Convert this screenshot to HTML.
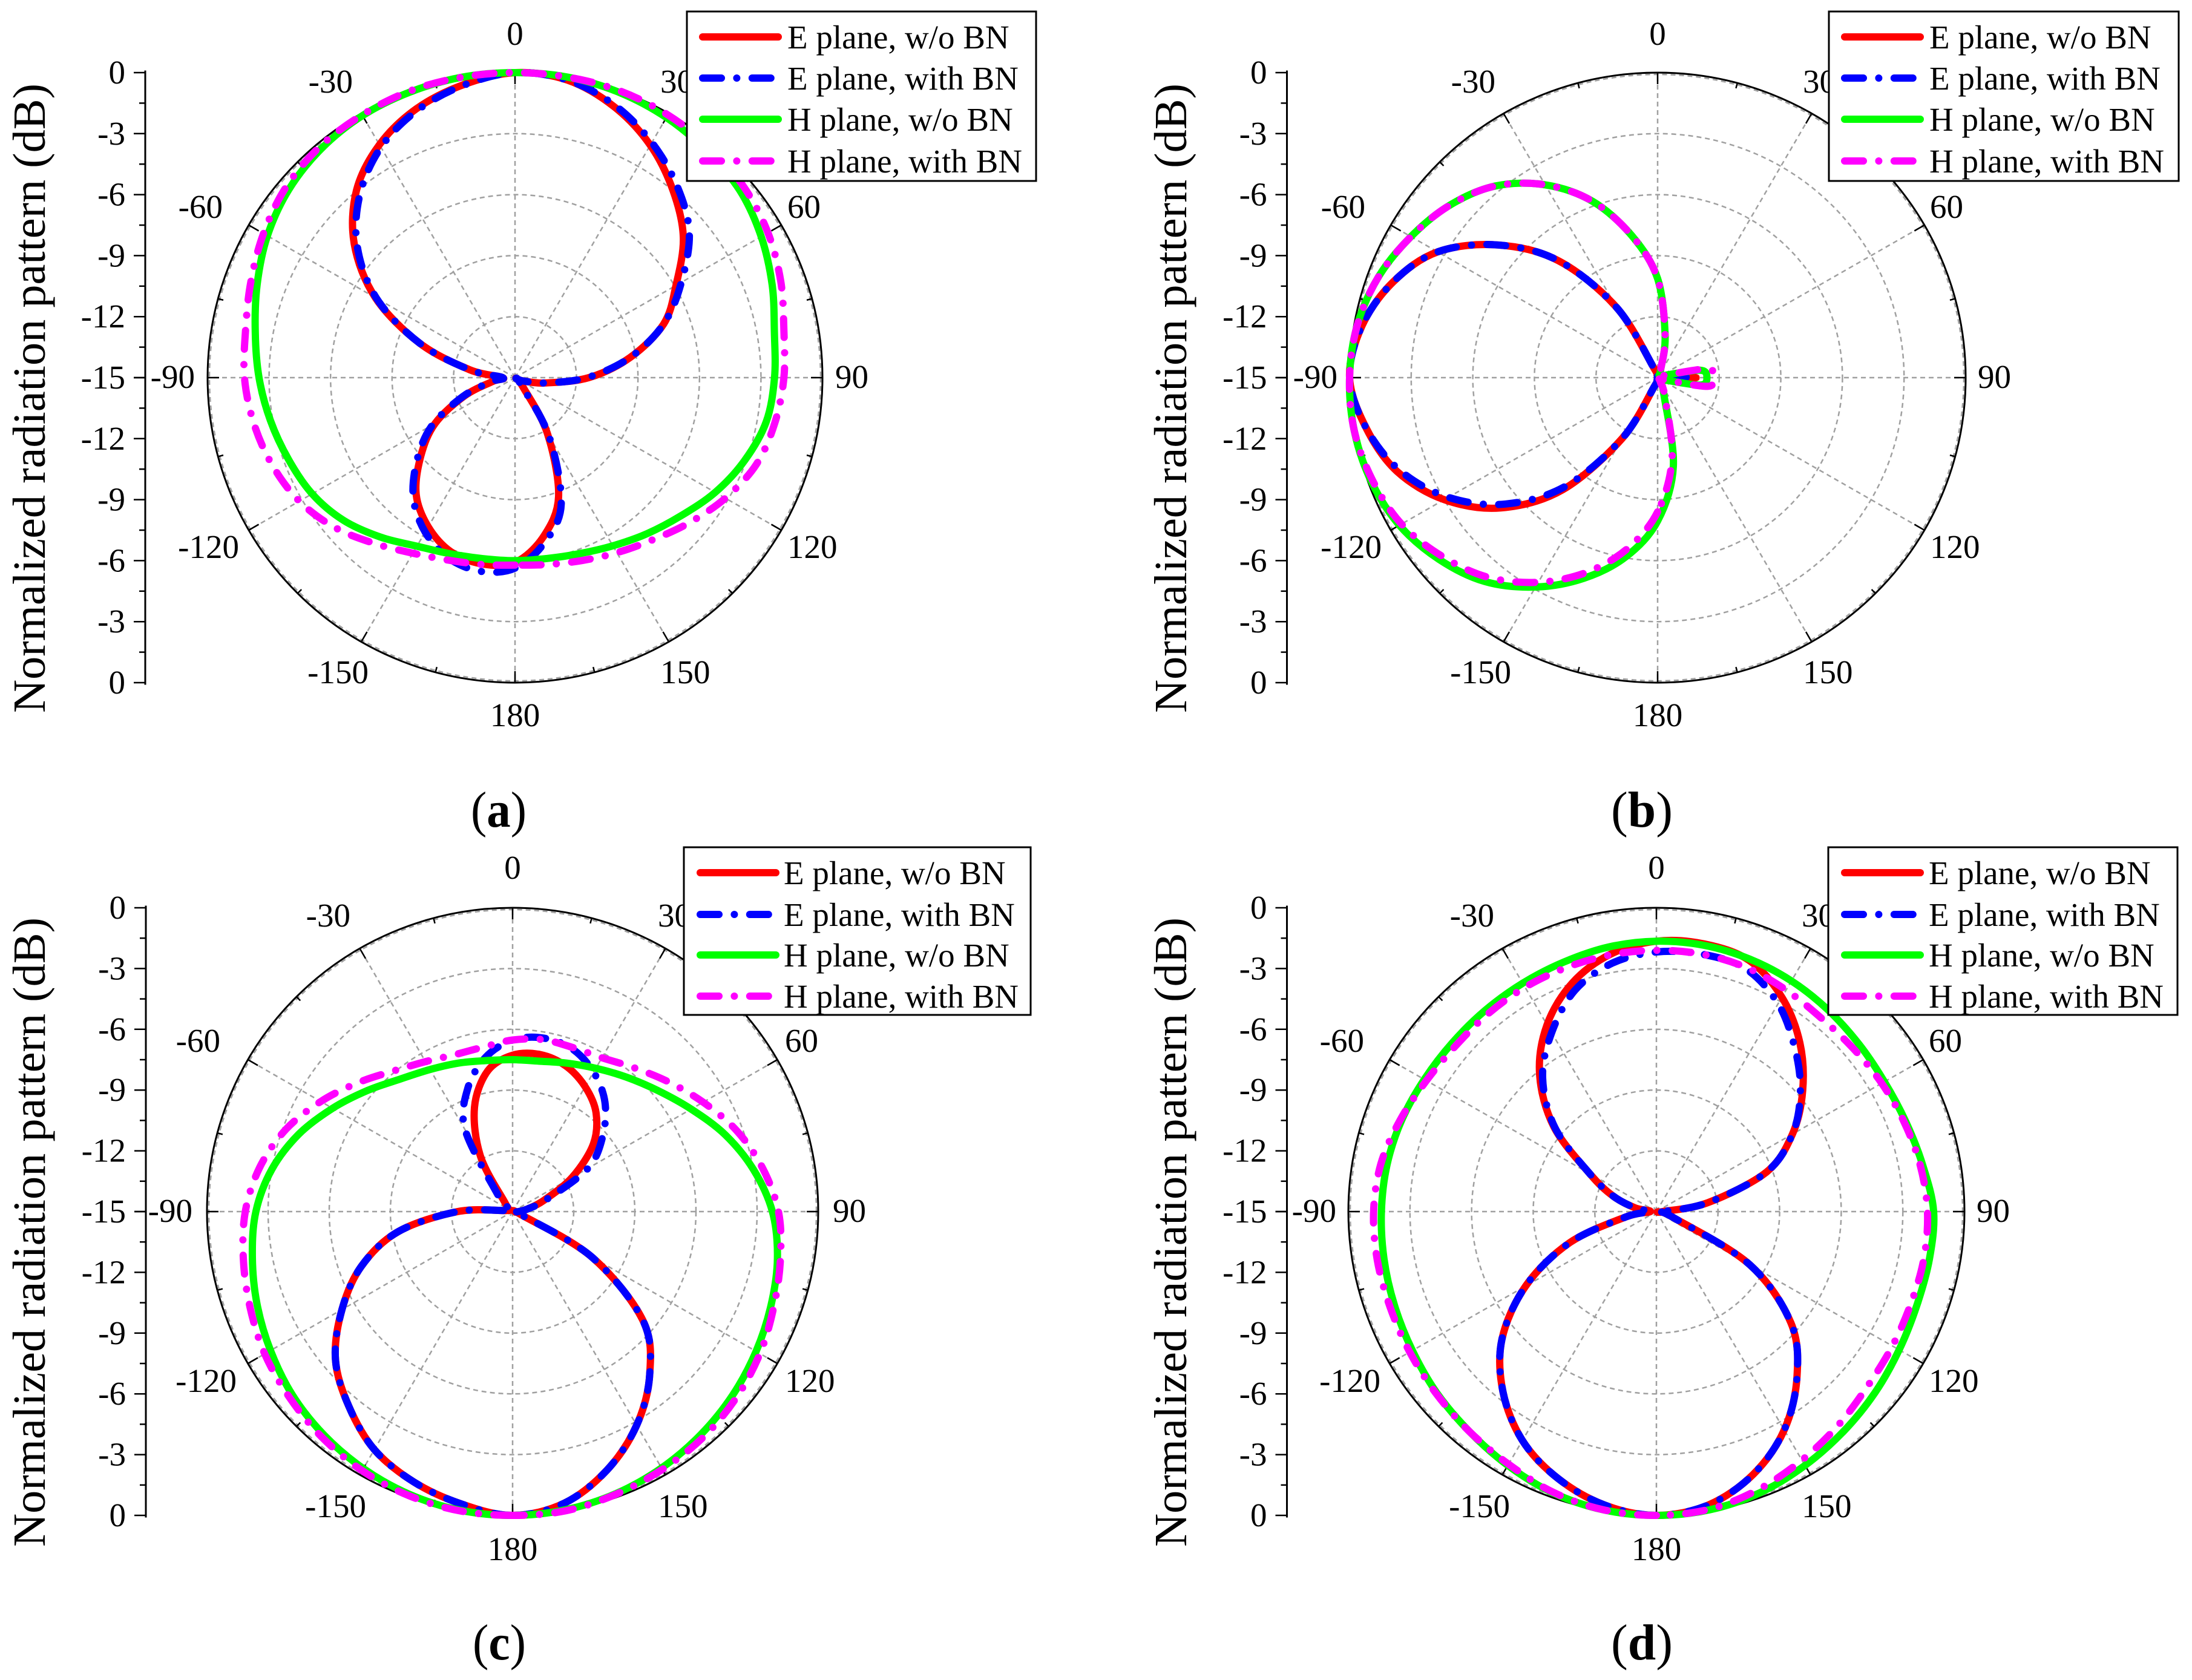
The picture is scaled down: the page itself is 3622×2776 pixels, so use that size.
<!DOCTYPE html>
<html lang="en">
<head>
<meta charset="utf-8">
<title>Normalized radiation patterns</title>
<style>
html,body{margin:0;padding:0;background:#fff}
svg{display:block}
text{font-family:"Liberation Serif",serif;fill:#000}
.lg{font-size:55px}
.tick{font-size:55px}
.ttl{font-size:76px}
.cap{font-size:84px}
</style>
</head>
<body>
<svg id="figure" xmlns="http://www.w3.org/2000/svg" width="3622" height="2776" viewBox="0 0 3622 2776">
<rect width="3622" height="2776" fill="#fff"/>

<g id="panel-a">
  <g id="plot-a"></g>
  <text class="ttl" transform="translate(74,658) rotate(-90)" text-anchor="middle" textLength="1040" lengthAdjust="spacingAndGlyphs">Normalized radiation pattern (dB)</text>
  <g transform="translate(1135,19)">
    <rect x="0" y="0" width="577" height="280" fill="#fff" stroke="#000" stroke-width="3"/>
    <line x1="26" x2="151" y1="42" y2="42" stroke="#f00" stroke-width="12" stroke-linecap="round"/>
    <text class="lg" x="166" y="61">E plane, w/o BN</text>
    <line x1="26" x2="151" y1="110" y2="110" stroke="#00f" stroke-width="12" stroke-linecap="round" stroke-dasharray="31 25.4 0 25.4"/>
    <text class="lg" x="166" y="129">E plane, with BN</text>
    <line x1="26" x2="151" y1="178" y2="178" stroke="#0f0" stroke-width="12" stroke-linecap="round"/>
    <text class="lg" x="166" y="197">H plane, w/o BN</text>
    <line x1="26" x2="151" y1="247" y2="247" stroke="#f0f" stroke-width="12" stroke-linecap="round" stroke-dasharray="31 25.4 0 25.4"/>
    <text class="lg" x="166" y="266">H plane, with BN</text>
  </g>
  <text class="cap" x="778" y="1366" textLength="92" lengthAdjust="spacingAndGlyphs">(<tspan font-weight="bold">a</tspan>)</text>
</g>

<g id="panel-b">
  <g id="plot-b"></g>
  <text class="ttl" transform="translate(1960,658) rotate(-90)" text-anchor="middle" textLength="1040" lengthAdjust="spacingAndGlyphs">Normalized radiation pattern (dB)</text>
  <g transform="translate(3022,19)">
    <rect x="0" y="0" width="578" height="280" fill="#fff" stroke="#000" stroke-width="3"/>
    <line x1="26" x2="151" y1="42" y2="42" stroke="#f00" stroke-width="12" stroke-linecap="round"/>
    <text class="lg" x="166" y="61">E plane, w/o BN</text>
    <line x1="26" x2="151" y1="110" y2="110" stroke="#00f" stroke-width="12" stroke-linecap="round" stroke-dasharray="31 25.4 0 25.4"/>
    <text class="lg" x="166" y="129">E plane, with BN</text>
    <line x1="26" x2="151" y1="178" y2="178" stroke="#0f0" stroke-width="12" stroke-linecap="round"/>
    <text class="lg" x="166" y="197">H plane, w/o BN</text>
    <line x1="26" x2="151" y1="247" y2="247" stroke="#f0f" stroke-width="12" stroke-linecap="round" stroke-dasharray="31 25.4 0 25.4"/>
    <text class="lg" x="166" y="266">H plane, with BN</text>
  </g>
  <text class="cap" x="2662" y="1366" textLength="102" lengthAdjust="spacingAndGlyphs">(<tspan font-weight="bold">b</tspan>)</text>
</g>

<g id="panel-c">
  <g id="plot-c"></g>
  <text class="ttl" transform="translate(74,2036) rotate(-90)" text-anchor="middle" textLength="1040" lengthAdjust="spacingAndGlyphs">Normalized radiation pattern (dB)</text>
  <g transform="translate(1130,1400)">
    <rect x="0" y="0" width="573" height="277" fill="#fff" stroke="#000" stroke-width="3"/>
    <line x1="27" x2="152" y1="42" y2="42" stroke="#f00" stroke-width="12" stroke-linecap="round"/>
    <text class="lg" x="165" y="61">E plane, w/o BN</text>
    <line x1="27" x2="152" y1="111" y2="111" stroke="#00f" stroke-width="12" stroke-linecap="round" stroke-dasharray="31 25.4 0 25.4"/>
    <text class="lg" x="165" y="130">E plane, with BN</text>
    <line x1="27" x2="152" y1="178" y2="178" stroke="#0f0" stroke-width="12" stroke-linecap="round"/>
    <text class="lg" x="165" y="197">H plane, w/o BN</text>
    <line x1="27" x2="152" y1="246" y2="246" stroke="#f0f" stroke-width="12" stroke-linecap="round" stroke-dasharray="31 25.4 0 25.4"/>
    <text class="lg" x="165" y="265">H plane, with BN</text>
  </g>
  <text class="cap" x="781" y="2742" textLength="88" lengthAdjust="spacingAndGlyphs">(<tspan font-weight="bold">c</tspan>)</text>
</g>

<g id="panel-d">
  <g id="plot-d"></g>
  <text class="ttl" transform="translate(1960,2036) rotate(-90)" text-anchor="middle" textLength="1040" lengthAdjust="spacingAndGlyphs">Normalized radiation pattern (dB)</text>
  <g transform="translate(3021,1400)">
    <rect x="0" y="0" width="577" height="277" fill="#fff" stroke="#000" stroke-width="3"/>
    <line x1="27" x2="152" y1="42" y2="42" stroke="#f00" stroke-width="12" stroke-linecap="round"/>
    <text class="lg" x="166" y="61">E plane, w/o BN</text>
    <line x1="27" x2="152" y1="111" y2="111" stroke="#00f" stroke-width="12" stroke-linecap="round" stroke-dasharray="31 25.4 0 25.4"/>
    <text class="lg" x="166" y="130">E plane, with BN</text>
    <line x1="27" x2="152" y1="178" y2="178" stroke="#0f0" stroke-width="12" stroke-linecap="round"/>
    <text class="lg" x="166" y="197">H plane, w/o BN</text>
    <line x1="27" x2="152" y1="246" y2="246" stroke="#f0f" stroke-width="12" stroke-linecap="round" stroke-dasharray="31 25.4 0 25.4"/>
    <text class="lg" x="166" y="265">H plane, with BN</text>
  </g>
  <text class="cap" x="2662" y="2742" textLength="102" lengthAdjust="spacingAndGlyphs">(<tspan font-weight="bold">d</tspan>)</text>
</g>
</svg>

<script>
// Shared angular sampling (degrees, clockwise from top)
const angles = [-180,-170,-160,-150,-140,-130,-120,-110,-100,-90,-80,-70,-60,-50,-40,-30,-20,-10,0,10,20,30,40,50,60,70,80,90,100,110,120,130,140,150,160,170];

// Tick labels
const radialTicks = [0,-3,-6,-9,-12,-15];
const radialMinorTicks = [-1.5,-4.5,-7.5,-10.5,-13.5];
const ringLevels = [-12,-9,-6,-3,0];
const spokeAngles = [0,30,60,90,120,150,180,-150,-120,-90,-60,-30];
const minorAngles = [15,45,75,105,135,165,-165,-135,-105,-75,-45,-15];
const angleLabels = ['0','30','60','90','120','150','180','-150','-120','-90','-60','-30'];

// Panel (a) values, dB
const aEPlaneNoBN = [-5.91,-5.7,-5.88,-6.53,-7.5,-9,-10.5,-12.38,-13.88,-14.4,-12.75,-10.05,-7.13,-4.76,-2.97,-1.77,-.93,-.38,0,-.15,-.83,-1.8,-3,-4.28,-5.93,-7.28,-9.3,-11.4,-13.5,-14.48,-14.82,-14.93,-14.4,-11.85,-8.78,-7.05];
const aEPlaneBN = [-5.63,-5.33,-5.55,-6.23,-7.28,-8.78,-10.35,-12.3,-13.8,-14.4,-12.75,-10.05,-7.2,-4.95,-3.23,-1.92,-1.02,-.41,0,-.15,-.75,-1.65,-2.7,-3.9,-5.63,-7.28,-9.3,-11.48,-13.5,-14.48,-14.82,-14.93,-14.55,-11.7,-8.4,-6.75];
const aHPlaneNoBN = [-6,-5.96,-5.78,-5.43,-4.77,-4.08,-3.57,-3.24,-2.88,-2.51,-2.13,-1.61,-1.05,-.6,-.3,-.12,-.05,0,0,0,-.08,-.23,-.45,-.68,-1.13,-1.65,-2.15,-2.34,-2.55,-3.08,-3.72,-4.43,-4.98,-5.45,-5.79,-5.97];
const aHPlaneBN = [-5.78,-5.67,-5.45,-5.03,-4.35,-3.53,-2.85,-2.4,-2.06,-1.8,-1.65,-1.28,-.83,-.42,-.18,-.08,0,0,0,0,0,-.08,-.23,-.42,-.75,-1.2,-1.68,-1.88,-2.13,-2.48,-3.15,-3.9,-4.58,-5.06,-5.43,-5.67];

// Panel (b) values, dB
const bEPlaneNoBN = [-15,-14.85,-14.55,-11.55,-7.8,-5.03,-3,-1.5,-.6,0,-.38,-1.28,-2.63,-4.85,-7.5,-11.03,-14.55,-14.85,-15,-14.85,-14.85,-14.85,-14.85,-14.85,-14.85,-14.85,-14.7,-13.13,-14.7,-14.85,-14.85,-14.85,-14.85,-14.85,-14.85,-14.85];
const bEPlaneBN = [-15,-14.85,-14.55,-11.55,-8.03,-5.33,-3.23,-1.65,-.6,0,-.38,-1.28,-2.63,-4.85,-7.5,-11.03,-14.55,-14.85,-15,-14.85,-14.85,-14.85,-14.85,-14.85,-14.85,-14.85,-14.55,-13.5,-14.55,-14.85,-14.85,-14.85,-14.85,-14.85,-14.85,-14.85];
const bHPlaneNoBN = [-7.95,-6.05,-4.5,-3.11,-1.91,-1.1,-.48,-.15,0,0,-.15,-.53,-1.13,-1.8,-2.7,-4.05,-5.78,-7.95,-10.13,-12.9,-14.55,-14.85,-14.85,-14.85,-14.85,-14.7,-12.9,-12.6,-12.9,-14.7,-14.85,-14.85,-14.85,-14.7,-14.1,-10.58];
const bHPlaneBN = [-8.4,-6.45,-4.8,-3.38,-2.18,-1.32,-.6,-.23,0,0,-.15,-.53,-1.13,-1.8,-2.7,-4.05,-5.78,-7.95,-10.13,-12.9,-14.55,-14.85,-14.85,-14.85,-14.85,-14.7,-12.53,-12.3,-12.53,-14.7,-14.85,-14.85,-14.85,-14.7,-13.95,-10.95];

// Panel (c) values, dB
const cEPlaneNoBN = [0,-.35,-.8,-1.43,-2.48,-3.65,-5.33,-7.1,-9.3,-12.3,-14.7,-14.7,-14.7,-14.7,-14.4,-11.85,-9.53,-7.95,-7.28,-7.13,-7.35,-7.88,-8.63,-9.83,-11.63,-13.35,-14.25,-14.7,-14.85,-14.55,-10.5,-6.66,-4.53,-2.82,-1.43,-.38];
const cEPlaneBN = [0,-.35,-.8,-1.43,-2.48,-3.65,-5.33,-7.1,-9.3,-12.3,-14.7,-14.7,-14.7,-14.7,-13.8,-10.35,-8.55,-7.28,-6.53,-6.3,-6.45,-7.05,-7.95,-9.23,-10.73,-13.2,-14.25,-14.7,-14.85,-14.55,-10.5,-6.66,-4.53,-2.82,-1.43,-.38];
const cHPlaneNoBN = [0,-.03,-.15,-.35,-.6,-.9,-1.28,-1.65,-2.03,-2.4,-3,-3.83,-4.8,-5.7,-6.45,-6.9,-7.2,-7.43,-7.5,-7.46,-7.2,-6.83,-6.33,-5.7,-4.88,-3.9,-3,-2.25,-1.8,-1.5,-1.2,-.9,-.63,-.38,-.18,-.05];
const cHPlaneBN = [0,0,-.08,-.23,-.45,-.71,-.95,-1.28,-1.58,-1.88,-2.4,-3.15,-4.13,-5.1,-5.93,-6.45,-6.75,-6.75,-6.53,-6.38,-6.38,-6.23,-5.73,-5.03,-4.2,-3.3,-2.55,-1.95,-1.65,-1.35,-.98,-.68,-.45,-.3,-.15,0];

// Panel (d) values, dB
const dEPlaneNoBN = [0,-.3,-.98,-1.95,-3.38,-5.18,-7.65,-10.5,-13.5,-14.7,-13.95,-12.75,-11.25,-8.48,-6.15,-4.35,-3,-2.1,-1.65,-1.58,-1.8,-2.78,-4.13,-5.7,-7.35,-9.3,-12.45,-14.7,-14.85,-14.1,-9.75,-6.45,-4.35,-2.55,-1.2,-.3];
const dEPlaneBN = [0,-.3,-.98,-1.95,-3.38,-5.18,-7.65,-10.5,-13.5,-14.7,-13.95,-12.75,-11.25,-8.55,-6.38,-4.8,-3.38,-2.55,-2.18,-2.1,-2.25,-3.15,-4.5,-5.85,-7.35,-9.3,-12.45,-14.7,-14.85,-14.1,-9.75,-6.45,-4.35,-2.55,-1.2,-.3];
const dHPlaneNoBN = [0,-.05,-.23,-.53,-.83,-1.05,-1.28,-1.43,-1.53,-1.61,-1.68,-1.8,-1.95,-2.03,-2.03,-1.98,-1.88,-1.73,-1.65,-1.65,-1.73,-1.85,-2,-2.13,-2.18,-2.07,-1.83,-1.5,-1.5,-1.5,-1.35,-1.1,-.83,-.53,-.23,-.05];
const dHPlaneBN = [0,-.05,-.26,-.6,-.83,-1.01,-1.13,-1.2,-1.2,-1.23,-1.38,-1.73,-2.07,-2.25,-2.25,-2.21,-2.18,-2.13,-2.1,-2.1,-2.18,-2.37,-2.52,-2.48,-2.33,-2.15,-1.95,-1.8,-1.77,-1.8,-1.73,-1.58,-1.23,-.83,-.41,-.08];

const NS = 'http://www.w3.org/2000/svg';
const RANGE_MIN = -15, RANGE_MAX = 0;

function mk(parent, tag, attrs, text) {
  const e = document.createElementNS(NS, tag);
  for (const k in attrs) e.setAttribute(k, attrs[k]);
  if (text !== undefined) e.textContent = text;
  parent.appendChild(e);
  return e;
}

// Axis functions
function radiusFraction(db) { return (db - RANGE_MIN) / (RANGE_MAX - RANGE_MIN); }
function polarX(p, deg, frac) { return p.cx + p.rx * frac * Math.sin(deg * Math.PI / 180); }
function polarY(p, deg, frac) { return p.cy - p.ry * frac * Math.cos(deg * Math.PI / 180); }

function curvePath(p, values) {
  const pts = values.map((v, i) => [polarX(p, angles[i], radiusFraction(v)), polarY(p, angles[i], radiusFraction(v))]);
  const n = pts.length;
  let d = 'M' + pts[0][0].toFixed(1) + ' ' + pts[0][1].toFixed(1);
  for (let i = 0; i < n; i++) {
    const p0 = pts[(i - 1 + n) % n], p1 = pts[i], p2 = pts[(i + 1) % n], p3 = pts[(i + 2) % n];
    const c1x = p1[0] + (p2[0] - p0[0]) / 6, c1y = p1[1] + (p2[1] - p0[1]) / 6;
    const c2x = p2[0] - (p3[0] - p1[0]) / 6, c2y = p2[1] - (p3[1] - p1[1]) / 6;
    d += 'C' + c1x.toFixed(1) + ' ' + c1y.toFixed(1) + ' ' + c2x.toFixed(1) + ' ' + c2y.toFixed(1) + ' ' + p2[0].toFixed(1) + ' ' + p2[1].toFixed(1);
  }
  return d + 'Z';
}

// Angle label placement relative to the panel centre (layout, not data)
const labelLayout = {
  '0':{dx:0,dy:-568,a:'middle'}, '30':{dx:240,dy:-489,a:'start'}, '60':{dx:450,dy:-282,a:'start'},
  '90':{dx:529,dy:-1,a:'start'}, '120':{dx:450,dy:280,a:'start'}, '150':{dx:240,dy:487,a:'start'},
  '180':{dx:0,dy:558,a:'middle'}, '-150':{dx:-242,dy:487,a:'end'}, '-120':{dx:-456,dy:280,a:'end'},
  '-90':{dx:-529,dy:-1,a:'end'}, '-60':{dx:-483,dy:-282,a:'end'}, '-30':{dx:-268,dy:-489,a:'end'}
};

function drawPanel(p) {
  const root = document.getElementById(p.id);
  const GRID = '#a0a0a0';

  // Grid rings
  ringLevels.forEach(level => {
    const f = radiusFraction(level);
    const inset = level === 0 ? 3 : 0;
    const ring = mk(root, 'ellipse', {cx:p.cx, cy:p.cy, rx:p.rx*f-inset, ry:p.ry*f-inset, fill:'none', stroke:GRID, 'stroke-width':2.5, 'stroke-dasharray':'8 6'});
    
    
  });
  // Spokes
  spokeAngles.forEach(deg => {
    const s = mk(root, 'line', {x1:p.cx, y1:p.cy, x2:polarX(p,deg,1), y2:polarY(p,deg,1), stroke:GRID, 'stroke-width':2.5, 'stroke-dasharray':'8 6'});
    
    
  });
  // Outer circle
  const outer = mk(root, 'ellipse', {cx:p.cx, cy:p.cy, rx:p.rx, ry:p.ry, fill:'none', stroke:'#000', 'stroke-width':3});
  
  
  // Angular ticks
  spokeAngles.forEach(deg => {
    const t = mk(root, 'line', {x1:polarX(p,deg,1), y1:polarY(p,deg,1), x2:polarX(p,deg,1-19/p.rx), y2:polarY(p,deg,1-19/p.ry), stroke:'#000', 'stroke-width':2.5});
    
    
  });
  minorAngles.forEach(deg => {
    const t = mk(root, 'line', {x1:polarX(p,deg,1), y1:polarY(p,deg,1), x2:polarX(p,deg,1-9/p.rx), y2:polarY(p,deg,1-9/p.ry), stroke:'#000', 'stroke-width':2.5});
    
    
  });
  // Angle labels
  angleLabels.forEach(label => {
    const L = labelLayout[label];
    const t = mk(root, 'text', {class:'tick', x:p.cx+L.dx, y:p.cy+L.dy+18, 'text-anchor':L.a}, label);
    
    
  });

  // Radial axis (mirrored above and below the centre)
  const axis = mk(root, 'line', {x1:p.axisX, x2:p.axisX, y1:p.cy-p.ry-3.5, y2:p.cy+p.ry+3.5, stroke:'#000', 'stroke-width':3});
  
  
  [-1, 1].forEach(side => {
    radialTicks.forEach(v => {
      const y = p.cy + side * p.ry * radiusFraction(v);
      const t = mk(root, 'line', {x1:p.axisX-19, x2:p.axisX, y1:y, y2:y, stroke:'#000', 'stroke-width':2.5});
      
      
      if (v === RANGE_MIN && side === 1) return;
      const l = mk(root, 'text', {class:'tick', x:p.axisX-33, y:y+18, 'text-anchor':'end'}, String(v));
      
      
    });
    radialMinorTicks.forEach(v => {
      const y = p.cy + side * p.ry * radiusFraction(v);
      const t = mk(root, 'line', {x1:p.axisX-10, x2:p.axisX, y1:y, y2:y, stroke:'#000', 'stroke-width':2.5});
      
      
    });
  });

  // Series
  const styles = [
    {name:'series-e-plane-without-bn', color:'#f00', dash:null},
    {name:'series-e-plane-with-bn', color:'#00f', dash:'31 25.4 0 25.4'},
    {name:'series-h-plane-without-bn', color:'#0f0', dash:null},
    {name:'series-h-plane-with-bn', color:'#f0f', dash:'31 25.4 0 25.4'}
  ];
  styles.forEach((s, i) => {
    const attrs = {d:curvePath(p, p.series[i]), fill:'none', stroke:s.color, 'stroke-width':12, 'stroke-linecap':'round', 'stroke-linejoin':'round'};
    if (s.dash) attrs['stroke-dasharray'] = s.dash;
    const path = mk(root, 'path', attrs);
    
    
  });
}

drawPanel({id:'plot-a', cx:851, cy:624, rx:508, ry:504, axisX:240, series:[aEPlaneNoBN,aEPlaneBN,aHPlaneNoBN,aHPlaneBN]});
drawPanel({id:'plot-b', cx:2739, cy:624, rx:509, ry:504, axisX:2126.5, series:[bEPlaneNoBN,bEPlaneBN,bHPlaneNoBN,bHPlaneBN]});
drawPanel({id:'plot-c', cx:847, cy:2002, rx:505, ry:502, axisX:241, series:[cEPlaneNoBN,cEPlaneBN,cHPlaneNoBN,cHPlaneBN]});
drawPanel({id:'plot-d', cx:2737, cy:2002, rx:509, ry:502, axisX:2126.5, series:[dEPlaneNoBN,dEPlaneBN,dHPlaneNoBN,dHPlaneBN]});
</script>
</body>
</html>
